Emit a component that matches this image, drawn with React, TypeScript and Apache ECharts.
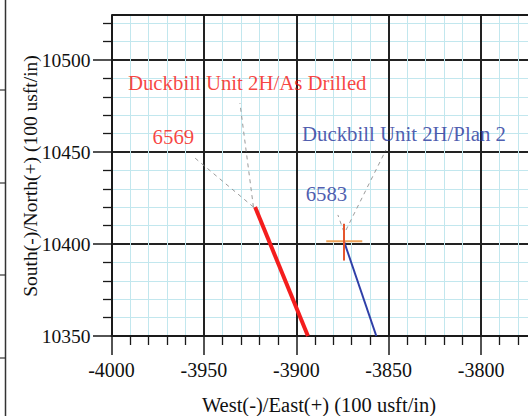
import React, { useEffect, useRef } from "react";
import * as echarts from "echarts";

const xTicks = [-4000, -3950, -3900, -3850, -3800];
const yTicks = [10350, 10400, 10450, 10500];
const asDrilled = [
  [-3922.3, 10420.1],
  [-3893.7, 10350],
];
const plan2 = [
  [-3874.2, 10401.5],
  [-3856.7, 10350],
];
const crossH = [
  [-3883.8, 10401.5],
  [-3864.3, 10401.5],
];
const crossV = [
  [-3874.2, 10391],
  [-3874.2, 10411],
];
const leaderRed1 = [
  [-3923.2, 10420.1],
  [-3930.5, 10476.6],
];
const leaderRed2 = [
  [-3923.2, 10420.1],
  [-3954.8, 10446.7],
];
const leaderBlue1 = [
  [-3873.1, 10407.6],
  [-3851.5, 10451.1],
];
const leaderBlue2 = [
  [-3874.2, 10406.5],
  [-3877.5, 10415.8],
];
const labels = [
  { text: "Duckbill Unit 2H/As Drilled", x: -3991.1, y: 10488.0, color: "#f5140f", align: "left" },
  { text: "6569", x: -3966.5, y: 10458.2, color: "#f5140f", align: "center" },
  { text: "Duckbill Unit 2H/Plan 2", x: -3896.9, y: 10460.3, color: "#22339a", align: "left" },
  { text: "6583", x: -3883.7, y: 10427.7, color: "#22339a", align: "center" },
];

const SERIF = "'Liberation Serif', 'DejaVu Serif', serif";
// chart canvas is larger than the page and offset, so the plot runs past the top/right edges
const OY = 40;
const W = 600;
const H = 416 + OY;

export default function App() {
  const ref = useRef<HTMLDivElement>(null);
  useEffect(() => {
    if (!ref.current) return;
    const chart = echarts.init(ref.current, undefined, { renderer: "svg" });
    const dashed = (data: number[][]) => ({
      type: "line",
      data,
      symbol: "none",
      silent: true,
      lineStyle: { color: "#9a9a9a", width: 1, type: [4, 4] },
      z: 3,
    });
    chart.setOption({
      animation: false,
      backgroundColor: "#ffffff",
      grid: { left: 111.5, right: W - 573.5, top: OY - 32, bottom: 80, containLabel: false },
      xAxis: {
        type: "value",
        min: -4000,
        max: -3750,
        interval: 50,
        axisLine: { show: true, onZero: false, lineStyle: { color: "#1a1a1a", width: 2 } },
        axisTick: { show: true, length: 19, lineStyle: { color: "#1a1a1a", width: 1.5 } },
        minorTick: { show: true, splitNumber: 5, length: 9, lineStyle: { color: "#1a1a1a", width: 1.3 } },
        splitLine: { show: true, lineStyle: { color: "#222", width: 2 } },
        minorSplitLine: { show: true, lineStyle: { color: "#c2e7ee", width: 1 } },
        axisLabel: {
          color: "#111",
          fontFamily: SERIF,
          fontSize: 20,
          margin: 24,
          formatter: (v: number) => (xTicks.includes(v) ? String(v) : ""),
        },
      },
      yAxis: {
        type: "value",
        min: 10350,
        max: 10550,
        interval: 50,
        axisLine: { show: true, onZero: false, lineStyle: { color: "#1a1a1a", width: 2 } },
        axisTick: { show: true, length: 18.5, lineStyle: { color: "#1a1a1a", width: 1.5 } },
        minorTick: { show: true, splitNumber: 5, length: 8.5, lineStyle: { color: "#1a1a1a", width: 1.3 } },
        splitLine: { show: true, lineStyle: { color: "#222", width: 2 } },
        minorSplitLine: { show: true, lineStyle: { color: "#c2e7ee", width: 1 } },
        axisLabel: {
          color: "#111",
          fontFamily: SERIF,
          fontSize: 19.5,
          margin: 21,
          formatter: (v: number) => (yTicks.includes(v) ? String(v) : ""),
        },
      },
      series: [
        dashed(leaderRed1),
        dashed(leaderRed2),
        dashed(leaderBlue1),
        dashed(leaderBlue2),
        {
          type: "line",
          data: asDrilled,
          symbol: "none",
          lineStyle: { color: "#f41d1d", width: 4 },
          z: 5,
        },
        {
          type: "line",
          data: plan2,
          symbol: "none",
          lineStyle: { color: "#2f3fa8", width: 2 },
          z: 5,
        },
        {
          type: "line",
          data: crossH,
          symbol: "none",
          lineStyle: { color: "#eea35a", width: 2 },
          z: 6,
        },
        {
          type: "line",
          data: crossV,
          symbol: "none",
          lineStyle: { color: "#e5562e", width: 2 },
          z: 6,
        },
        {
          type: "scatter",
          data: labels.map((l) => ({
            value: [l.x, l.y],
            label: {
              show: true,
              formatter: l.text,
              position: "inside",
              align: l.align,
              verticalAlign: "middle",
              color: l.color,
              fontFamily: SERIF,
              fontSize: 20.8,
            },
          })),
          symbolSize: 1,
          itemStyle: { color: "rgba(0,0,0,0)" },
          silent: true,
          z: 7,
        },
      ],
      graphic: [
        {
          type: "rect",
          shape: { x: 80, y: 0, width: W - 80, height: OY + 14.5 },
          style: { fill: "#ffffff" },
          z: 100,
        },
        {
          type: "line",
          shape: { x1: 111.5, y1: OY + 15, x2: W, y2: OY + 15 },
          style: { stroke: "#1a1a1a", lineWidth: 2 },
          z: 101,
        },
        {
          type: "line",
          shape: { x1: 5.5, y1: 0, x2: 5.5, y2: H },
          style: { stroke: "#333", lineWidth: 1.5 },
          z: 101,
        },
        ...[90, 183, 275, 358].map((y) => ({
          type: "line",
          shape: { x1: 0, y1: OY + y, x2: 5.5, y2: OY + y },
          style: { stroke: "#333", lineWidth: 1.2 },
          z: 101,
        })),
        {
          type: "text",
          x: 319,
          y: OY + 405,
          style: {
            text: "West(-)/East(+) (100 usft/in)",
            font: `20.5px ${SERIF}`,
            fill: "#111",
            textAlign: "center",
            textVerticalAlign: "middle",
          },
          z: 101,
        },
        {
          type: "text",
          x: 30,
          y: OY + 176,
          rotation: Math.PI / 2,
          style: {
            text: "South(-)/North(+) (100 usft/in)",
            font: `19.5px ${SERIF}`,
            fill: "#111",
            textAlign: "center",
            textVerticalAlign: "middle",
          },
          z: 101,
        },
      ],
    });
    return () => chart.dispose();
  }, []);
  return (
    <div
      ref={ref}
      style={{ position: "fixed", left: 0, top: -OY, width: W, height: H }}
    />
  );
}
